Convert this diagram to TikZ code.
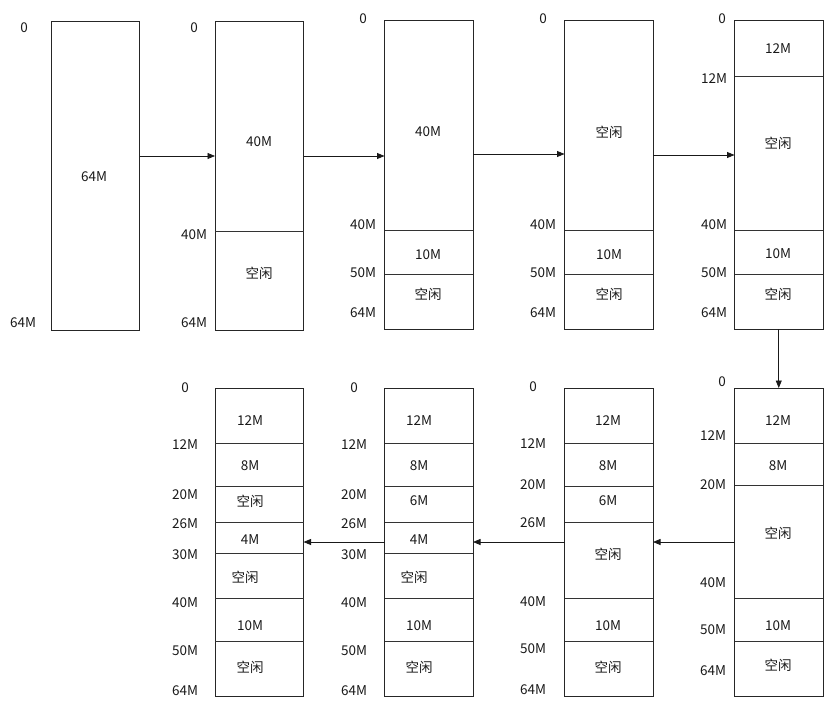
\documentclass[tikz,border=0pt]{standalone}
\usepackage{fontspec}
\setmainfont{Noto Sans CJK SC}
\usetikzlibrary{arrows.meta}
\begin{document}
\begin{tikzpicture}[x=1pt,y=-1pt,
  box/.style={draw=black!85,line width=0.8pt,inner sep=0pt,outer sep=0pt,anchor=north west,minimum width=88.5pt},
  div/.style={draw=black!80,line width=0.8pt},
  lbl/.style={inner sep=0pt,font=\fontsize{13.5}{15}\selectfont,text=black!90},
  arr/.style={draw=black!90,line width=0.8pt,-{Triangle[length=7.5pt,width=6pt]}}]
\useasboundingbox (0,0) rectangle (824,709);
% ---------- top row ----------
\node[box,minimum height=309pt] (b1) at (51,21) {};
\node[box,minimum height=309pt] (b2) at (215,21) {};
\node[box,minimum height=309pt] (b3) at (384.5,20) {};
\node[box,minimum height=309pt] (b4) at (564.5,20) {};
\node[box,minimum height=309pt] (b5) at (734.5,20) {};
% dividers
\draw[div] (b2.west |- 0,231) -- (b2.east |- 0,231);
\draw[div] (b3.west |- 0,230) -- (b3.east |- 0,230);
\draw[div] (b3.west |- 0,274) -- (b3.east |- 0,274);
\draw[div] (b4.west |- 0,230) -- (b4.east |- 0,230);
\draw[div] (b4.west |- 0,274) -- (b4.east |- 0,274);
\draw[div] (b5.west |- 0,76) -- (b5.east |- 0,76);
\draw[div] (b5.west |- 0,230) -- (b5.east |- 0,230);
\draw[div] (b5.west |- 0,274) -- (b5.east |- 0,274);
% box 1 labels
\node[lbl] (l1a) at (24,28) {0};
\node[lbl] (l1b) at (23,323) {64M};
\node[lbl] (c1a) at (94,177) {64M};
% box 2
\node[lbl] (l2a) at (194,28) {0};
\node[lbl] (l2b) at (194,235) {40M};
\node[lbl] (l2c) at (194,323) {64M};
\node[lbl] (c2a) at (259,142) {40M};
\node[lbl] (c2b) at (259,273) {空闲};
% box 3
\node[lbl] (l3a) at (363,19) {0};
\node[lbl] (l3b) at (363,225) {40M};
\node[lbl] (l3c) at (363,273) {50M};
\node[lbl] (l3d) at (363,313) {64M};
\node[lbl] (c3a) at (428,132) {40M};
\node[lbl] (c3b) at (428,255) {10M};
\node[lbl] (c3c) at (428,294) {空闲};
% box 4
\node[lbl] (l4a) at (543,19) {0};
\node[lbl] (l4b) at (543,225) {40M};
\node[lbl] (l4c) at (543,273) {50M};
\node[lbl] (l4d) at (543,313) {64M};
\node[lbl] (c4a) at (609,132) {空闲};
\node[lbl] (c4b) at (609,255) {10M};
\node[lbl] (c4c) at (609,294) {空闲};
% box 5
\node[lbl] (l5a) at (722,19) {0};
\node[lbl] (l5b) at (714,79) {12M};
\node[lbl] (l5c) at (714,225) {40M};
\node[lbl] (l5d) at (714,273) {50M};
\node[lbl] (l5e) at (714,313) {64M};
\node[lbl] (c5a) at (778,49) {12M};
\node[lbl] (c5b) at (778,143) {空闲};
\node[lbl] (c5c) at (778,254) {10M};
\node[lbl] (c5d) at (778,294) {空闲};
% top arrows
\draw[arr] ([yshift=19.5pt]b1.east) -- ([yshift=19.5pt]b2.west);
\draw[arr] ([yshift=19.5pt]b2.east) -- ([yshift=18.5pt]b3.west);
\draw[arr] ([yshift=20.5pt]b3.east) -- ([yshift=20.5pt]b4.west);
\draw[arr] ([yshift=19.5pt]b4.east) -- ([yshift=19.5pt]b5.west);
% ---------- bottom row ----------
\node[box,minimum height=308pt] (bA) at (215,388) {};
\node[box,minimum height=308pt] (bB) at (384.5,388) {};
\node[box,minimum height=308pt] (bC) at (564.5,388) {};
\node[box,minimum height=308pt] (bD) at (734.5,388) {};
\draw[arr] (b5.south) -- (bD.north);
% dividers
\foreach \yy in {443,486,522,553,598,641}{\draw[div] (bA.west |- 0,\yy) -- (bA.east |- 0,\yy);}
\foreach \yy in {443,486,522,553,598,641}{\draw[div] (bB.west |- 0,\yy) -- (bB.east |- 0,\yy);}
\foreach \yy in {443,486,522,598,641}{\draw[div] (bC.west |- 0,\yy) -- (bC.east |- 0,\yy);}
\foreach \yy in {443,485,598,641}{\draw[div] (bD.west |- 0,\yy) -- (bD.east |- 0,\yy);}
% box A labels
\node[lbl] (lAa) at (185,388) {0};
\node[lbl] (lAb) at (185,445) {12M};
\node[lbl] (lAc) at (185,495) {20M};
\node[lbl] (lAd) at (185,524) {26M};
\node[lbl] (lAe) at (185,555) {30M};
\node[lbl] (lAf) at (185,603) {40M};
\node[lbl] (lAg) at (185,651) {50M};
\node[lbl] (lAh) at (185,691) {64M};
\node[lbl] (cAa) at (250,421) {12M};
\node[lbl] (cAb) at (250,466) {8M};
\node[lbl] (cAc) at (250,501) {空闲};
\node[lbl] (cAd) at (250,540) {4M};
\node[lbl] (cAe) at (245,577) {空闲};
\node[lbl] (cAf) at (250,626) {10M};
\node[lbl] (cAg) at (250,667) {空闲};
% box B labels
\node[lbl] (lBa) at (354,388) {0};
\node[lbl] (lBb) at (354,445) {12M};
\node[lbl] (lBc) at (354,495) {20M};
\node[lbl] (lBd) at (354,524) {26M};
\node[lbl] (lBe) at (354,555) {30M};
\node[lbl] (lBf) at (354,603) {40M};
\node[lbl] (lBg) at (354,651) {50M};
\node[lbl] (lBh) at (354,691) {64M};
\node[lbl] (cBa) at (419,421) {12M};
\node[lbl] (cBb) at (419,466) {8M};
\node[lbl] (cBc) at (419,501) {6M};
\node[lbl] (cBd) at (419,540) {4M};
\node[lbl] (cBe) at (414,577) {空闲};
\node[lbl] (cBf) at (419,626) {10M};
\node[lbl] (cBg) at (419,667) {空闲};
% box C labels
\node[lbl] (lCa) at (533,387) {0};
\node[lbl] (lCb) at (533,444) {12M};
\node[lbl] (lCc) at (533,485) {20M};
\node[lbl] (lCd) at (533,523) {26M};
\node[lbl] (lCe) at (533,602) {40M};
\node[lbl] (lCf) at (533,649) {50M};
\node[lbl] (lCg) at (533,690) {64M};
\node[lbl] (cCa) at (608,421) {12M};
\node[lbl] (cCb) at (608,466) {8M};
\node[lbl] (cCc) at (608,501) {6M};
\node[lbl] (cCd) at (608,554) {空闲};
\node[lbl] (cCe) at (608,626) {10M};
\node[lbl] (cCf) at (608,667) {空闲};
% box D labels
\node[lbl] (lDa) at (722,382) {0};
\node[lbl] (lDb) at (713,436) {12M};
\node[lbl] (lDc) at (713,485) {20M};
\node[lbl] (lDd) at (713,583) {40M};
\node[lbl] (lDe) at (713,630) {50M};
\node[lbl] (lDf) at (713,671) {64M};
\node[lbl] (cDa) at (778,421) {12M};
\node[lbl] (cDb) at (778,466) {8M};
\node[lbl] (cDc) at (778,533) {空闲};
\node[lbl] (cDd) at (778,626) {10M};
\node[lbl] (cDe) at (778,665) {空闲};
% bottom arrows
\draw[arr] (bD.west) -- (bC.east);
\draw[arr] (bC.west) -- (bB.east);
\draw[arr] (bB.west) -- (bA.east);
\end{tikzpicture}
\end{document}
